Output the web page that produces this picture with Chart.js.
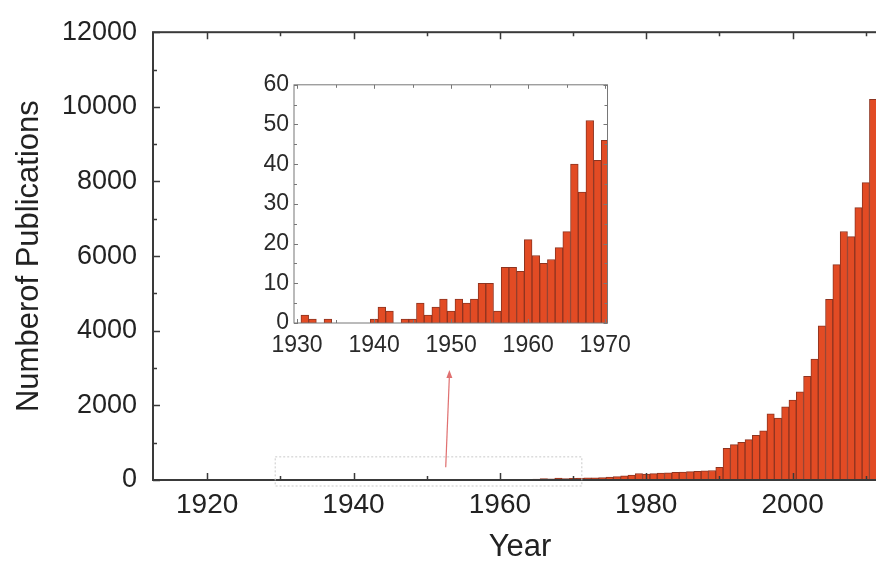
<!DOCTYPE html>
<html>
<head>
<meta charset="utf-8">
<script src="https://cdn.jsdelivr.net/npm/chart.js@4.4.1/dist/chart.umd.min.js"></script>
<style>
  html, body { margin: 0; padding: 0; background: #fff; overflow: hidden; }
  #wrap { position: relative; width: 887px; height: 566px; }
  #mainChart { position: absolute; left: 0; top: 0; }
  #insetChart { position: absolute; left: 244px; top: 66px; }
</style>
</head>
<body>
<div id="wrap">
  <canvas id="mainChart" width="887" height="566"></canvas>
  <canvas id="insetChart" width="396" height="297"></canvas>
</div>
<script>
// publications per year, 1930-1970
const earlyYears = [1930, 1931, 1932, 1933, 1934, 1935, 1936, 1937, 1938, 1939,
  1940, 1941, 1942, 1943, 1944, 1945, 1946, 1947, 1948, 1949,
  1950, 1951, 1952, 1953, 1954, 1955, 1956, 1957, 1958, 1959,
  1960, 1961, 1962, 1963, 1964, 1965, 1966, 1967, 1968, 1969, 1970];
const earlyCounts = [0, 2, 1, 0, 1, 0, 0, 0, 0, 0,
  1, 4, 3, 0, 1, 1, 5, 2, 4, 6,
  3, 6, 5, 6, 10, 10, 3, 14, 14, 13,
  21, 17, 15, 16, 19, 23, 40, 33, 51, 41, 46];

// publications per year, 1971-2011
const laterYears = [1971, 1972, 1973, 1974, 1975, 1976, 1977, 1978, 1979, 1980,
  1981, 1982, 1983, 1984, 1985, 1986, 1987, 1988, 1989, 1990,
  1991, 1992, 1993, 1994, 1995, 1996, 1997, 1998, 1999, 2000,
  2001, 2002, 2003, 2004, 2005, 2006, 2007, 2008, 2009, 2010, 2011];
const laterCounts = [50, 55, 60, 65, 75, 90, 110, 130, 175, 160,
  170, 185, 195, 205, 215, 225, 235, 245, 255, 340,
  850, 950, 1010, 1080, 1200, 1320, 1770, 1660, 1960, 2140,
  2360, 2780, 3240, 4130, 4840, 5770, 6660, 6520, 7300, 7970, 10200];

// tick labels
const mainXTicks = [1920, 1940, 1960, 1980, 2000];
const mainXMinor = [1930, 1950, 1970, 1990, 2010];
const mainYTicks = [0, 2000, 4000, 6000, 8000, 10000, 12000];
const mainYMinor = [1000, 3000, 5000, 7000, 9000, 11000];
const insetXTicks = [1930, 1940, 1950, 1960, 1970];
const insetXMinor = [1935, 1945, 1955, 1965];
const insetYTicks = [0, 10, 20, 30, 40, 50, 60];
const insetYMinor = [5, 15, 25, 35, 45, 55];

const FONT = "'Liberation Sans', Arial, sans-serif";
const BAR_FILL = '#e24b24';
const BAR_EDGE = '#8e3420';

function toPoints(xs, ys) {
  return xs.map((v, i) => ({ x: v, y: ys[i] }));
}

function useTicks(values) {
  return function (scale) {
    scale.ticks = values.map(v => ({ value: v }));
  };
}

// frame + inward tick marks
function framePlugin(id, look) {
  return {
    id: id,
    afterDatasetsDraw(chart) {
      const { ctx, chartArea: a, scales } = chart;
      const x = scales.x, y = scales.y;
      ctx.save();
      ctx.strokeStyle = look.color;
      ctx.lineWidth = look.width;
      ctx.strokeRect(a.left, a.top, a.right - a.left, a.bottom - a.top);
      ctx.lineWidth = look.tickWidth;
      const xMarks = (vals, len) => vals.forEach(v => {
        const px = Math.round(x.getPixelForValue(v)) + 0.5;
        ctx.beginPath();
        ctx.moveTo(px, a.bottom); ctx.lineTo(px, a.bottom - len);
        ctx.moveTo(px, a.top); ctx.lineTo(px, a.top + len);
        ctx.stroke();
      });
      const yMarks = (vals, len) => vals.forEach(v => {
        const py = Math.round(y.getPixelForValue(v)) + 0.5;
        ctx.beginPath();
        ctx.moveTo(a.left, py); ctx.lineTo(a.left + len, py);
        ctx.moveTo(a.right, py); ctx.lineTo(a.right - len, py);
        ctx.stroke();
      });
      xMarks(look.xMajor, look.major);
      xMarks(look.xMinor, look.minor);
      yMarks(look.yMajor, look.major);
      yMarks(look.yMinor, look.minor);
      ctx.restore();
    }
  };
}

// dotted box round 1930-1970 and the red arrow up to the inset
const zoomMarker = {
  id: 'zoomMarker',
  afterDraw(chart) {
    const { ctx, chartArea: a, scales: { x, y } } = chart;
    ctx.save();
    ctx.strokeStyle = '#c9c9c9';
    ctx.lineWidth = 1;
    ctx.setLineDash([2, 2]);
    const x1 = x.getPixelForValue(1929.3), x2 = x.getPixelForValue(1971.2);
    const y1 = y.getPixelForValue(620), y2 = a.bottom + 6;
    ctx.strokeRect(x1, y1, x2 - x1, y2 - y1);
    ctx.setLineDash([]);

    const ax = x.getPixelForValue(1952.6), ay = y.getPixelForValue(340);
    const bx = x.getPixelForValue(1953.1), by = y.getPixelForValue(2950);
    ctx.strokeStyle = '#e07070';
    ctx.fillStyle = '#e07070';
    ctx.lineWidth = 1.2;
    ctx.beginPath();
    ctx.moveTo(ax, ay);
    ctx.lineTo(bx, by + 6);
    ctx.stroke();
    ctx.beginPath();
    ctx.moveTo(bx, by);
    ctx.lineTo(bx - 3, by + 8);
    ctx.lineTo(bx + 3, by + 8);
    ctx.closePath();
    ctx.fill();
    ctx.restore();
  }
};

new Chart(document.getElementById('mainChart'), {
  type: 'bar',
  data: {
    datasets: [{
      data: toPoints(earlyYears.concat(laterYears), earlyCounts.concat(laterCounts)),
      backgroundColor: BAR_FILL,
      borderColor: BAR_EDGE,
      borderWidth: 1,
      barPercentage: 1,
      categoryPercentage: 1
    }]
  },
  options: {
    responsive: false,
    animation: false,
    devicePixelRatio: 1,
    layout: { padding: { left: 0, right: 0, top: 26, bottom: 0 } },
    plugins: { legend: { display: false }, tooltip: { enabled: false } },
    scales: {
      x: {
        type: 'linear',
        min: 1912.6,
        max: 2012.9,
        offset: false,
        afterBuildTicks: useTicks(mainXTicks),
        afterFit(scale) { scale.height = 86; },
        grid: { display: false, drawTicks: false },
        border: { display: false },
        ticks: {
          padding: 8,
          color: '#222',
          font: { family: FONT, size: 28 },
          maxRotation: 0,
          callback: v => String(v)
        },
        title: {
          display: true,
          text: 'Year',
          color: '#222',
          font: { family: FONT, size: 31 },
          padding: { top: 0, bottom: 0 }
        }
      },
      y: {
        min: 0,
        max: 12000,
        afterBuildTicks: useTicks(mainYTicks),
        afterFit(scale) { scale.width = 153; },
        grid: { display: false, drawTicks: false },
        border: { display: false },
        ticks: {
          padding: 16,
          color: '#222',
          font: { family: FONT, size: 27 },
          callback: v => String(v)
        },
        title: {
          display: true,
          text: 'Numberof Publications',
          color: '#222',
          font: { family: FONT, size: 31 },
          padding: { top: 11, bottom: 0 }
        }
      }
    }
  },
  plugins: [
    framePlugin('mainFrame', {
      color: '#3a3a3a', width: 2, tickWidth: 1.5, major: 7, minor: 4,
      xMajor: mainXTicks, xMinor: mainXMinor, yMajor: mainYTicks, yMinor: mainYMinor
    }),
    zoomMarker
  ]
});

new Chart(document.getElementById('insetChart'), {
  type: 'bar',
  data: {
    datasets: [{
      data: toPoints(earlyYears, earlyCounts),
      backgroundColor: BAR_FILL,
      borderColor: BAR_EDGE,
      borderWidth: 1,
      barPercentage: 1,
      categoryPercentage: 1
    }]
  },
  options: {
    responsive: false,
    animation: false,
    devicePixelRatio: 1,
    layout: { padding: { left: 0, right: 30, top: 10, bottom: 0 } },
    plugins: { legend: { display: false }, tooltip: { enabled: false } },
    scales: {
      x: {
        type: 'linear',
        min: 1929.6,
        max: 1970.3,
        offset: false,
        afterBuildTicks: useTicks(insetXTicks),
        afterFit(scale) { scale.height = 40; },
        grid: { display: false, drawTicks: false },
        border: { display: false },
        ticks: {
          padding: 9,
          color: '#2a2a2a',
          font: { family: FONT, size: 23 },
          maxRotation: 0,
          callback: v => String(v)
        }
      },
      y: {
        min: 0,
        max: 60,
        afterBuildTicks: useTicks(insetYTicks),
        afterFit(scale) { scale.width = 50; },
        grid: { display: false, drawTicks: false },
        border: { display: false },
        ticks: {
          padding: 5,
          color: '#2a2a2a',
          font: { family: FONT, size: 23 },
          callback: v => String(v)
        }
      }
    }
  },
  plugins: [
    framePlugin('insetFrame', {
      color: '#777', width: 1, tickWidth: 1, major: 4, minor: 3,
      xMajor: insetXTicks, xMinor: insetXMinor, yMajor: insetYTicks, yMinor: insetYMinor
    })
  ]
});
</script>
</body>
</html>
